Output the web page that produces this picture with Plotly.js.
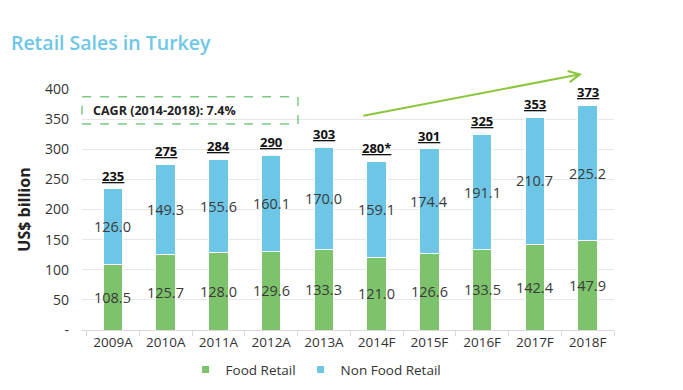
<!DOCTYPE html>
<html>
<head>
<meta charset="utf-8">
<script src="https://cdn.plot.ly/plotly-3.0.1.min.js"></script>
<style>html,body{margin:0;padding:0;background:#fff;}#chart{width:683px;height:390px;}</style>
</head>
<body>
<div id="chart"></div>
<script>
const categories = ["2009A","2010A","2011A","2012A","2013A","2014F","2015F","2016F","2017F","2018F"];
const foodRetail = [108.5,125.7,128.0,129.6,133.3,121.0,126.6,133.5,142.4,147.9];
const nonFoodRetail = [126.0,149.3,155.6,160.1,170.0,159.1,174.4,191.1,210.7,225.2];
const totalLabels = ["235","275","284","290","303","280*","301","325","353","373"];
const yTickVals = [0,50,100,150,200,250,300,350,400];
const yTickText = ["-","50","100","150","200","250","300","350","400"];

const FONT = "Open Sans, Noto Sans, sans-serif";
const GREEN = "#7dc36b";
const BLUE = "#6ec6e7";

const traces = [
  {type:"bar", name:"Food Retail", x:categories, y:foodRetail, marker:{color:GREEN, line:{color:"#ffffff", width:1}}, hoverinfo:"none", showlegend:false},
  {type:"bar", name:"Non Food Retail", x:categories, y:nonFoodRetail, marker:{color:BLUE, line:{color:"#ffffff", width:1}}, hoverinfo:"none", showlegend:false},
  {type:"scatter", mode:"markers", name:"Food Retail", x:[categories[0]], y:[null], marker:{symbol:"square", size:7, color:GREEN}, hoverinfo:"none"},
  {type:"scatter", mode:"markers", name:"Non Food Retail", x:[categories[0]], y:[null], marker:{symbol:"square", size:7, color:BLUE}, hoverinfo:"none"}
];

const annotations = [];
categories.forEach((c,i)=>{
  annotations.push({x:c, y:foodRetail[i]/2, xref:"x", yref:"y", text:foodRetail[i].toFixed(1), showarrow:false, font:{family:FONT, size:14.5, color:"#3a3a3a"}});
  annotations.push({x:c, y:foodRetail[i]+nonFoodRetail[i]/2, xref:"x", yref:"y", text:nonFoodRetail[i].toFixed(1), showarrow:false, font:{family:FONT, size:14.5, color:"#3a3a3a"}});
  annotations.push({x:c, y:foodRetail[i]+nonFoodRetail[i], xref:"x", yref:"y", text:"<b><u>"+totalLabels[i]+"</u></b>", showarrow:false, yanchor:"bottom", yshift:2, font:{family:FONT, size:13, color:"#111"}});
});
annotations.push({x:0.017, y:364, xref:"paper", yref:"y", xanchor:"left", text:"<b>CAGR (2014-2018): 7.4%</b>", showarrow:false, font:{family:FONT, size:12.5, color:"#222"}});
annotations.push({x:0.94, y:425, xref:"paper", yref:"y", ax:0.526, ay:355, axref:"paper", ayref:"y", text:"", showarrow:true, arrowhead:5, arrowsize:1.1, arrowwidth:2, arrowcolor:"#8cc63e"});

const layout = {
  width:683, height:390,
  margin:{l:82, r:69, t:89, b:60},
  paper_bgcolor:"#fff", plot_bgcolor:"#fff",
  barmode:"stack", bargap:0.63,
  font:{family:FONT, color:"#333"},
  title:{text:"Retail Sales in Turkey", x:0.016, xanchor:"left", y:0.89, yanchor:"middle", font:{family:FONT, size:19.5, color:"#6ec6e7", weight:600}},
  xaxis:{type:"category", tickfont:{size:13.5, color:"#333"}, showgrid:false, showline:true, linecolor:"#d9d9d9", ticks:"outside", tickson:"boundaries", ticklen:5, tickcolor:"#d9d9d9", fixedrange:true},
  yaxis:{range:[0,400], tickvals:yTickVals, ticktext:yTickText, tickfont:{size:14, color:"#333"}, showgrid:true, gridcolor:"#e8e8e8", zeroline:false, showline:false, ticks:"", ticklabelstandoff:12,
         title:{text:"<b>US$ billion</b>", font:{size:16, color:"#222"}, standoff:10}},
  showlegend:true,
  legend:{orientation:"h", x:0.44, xanchor:"center", yref:"container", y:0.052, yanchor:"middle", font:{size:13.5, color:"#333"}, itemwidth:30, traceorder:"normal"},
  shapes:[{type:"rect", xref:"paper", yref:"y", x0:0, x1:0.406, y0:342, y1:387, line:{color:"#3fae49", width:1, dash:"dash"}}],
  annotations:annotations
};
Plotly.newPlot("chart", traces, layout, {displayModeBar:false, staticPlot:true});
</script>
</body>
</html>
